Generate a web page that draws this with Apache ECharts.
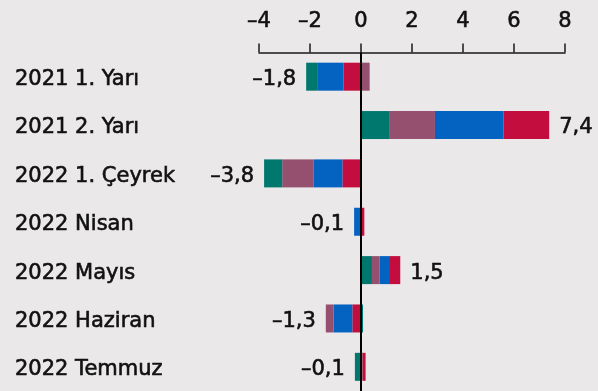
<!DOCTYPE html>
<html>
<head>
<meta charset="utf-8">
<script src="https://cdn.jsdelivr.net/npm/echarts@6/dist/echarts.min.js"></script>
<style>
  html, body { margin: 0; padding: 0; background: #ebe8e9; }
  #chart { width: 598px; height: 391px; }
</style>
</head>
<body>
<div id="chart"></div>
<script>
// Periods shown on the vertical axis, top to bottom
const categories = ['2021 1. Yarı', '2021 2. Yarı', '2022 1. Çeyrek', '2022 Nisan', '2022 Mayıs', '2022 Haziran', '2022 Temmuz'];

// Contributions of each component, per period
const tealValues    = [-0.43, 1.10, -0.71,  0.00, 0.43,  0.08, -0.24];
const mauveValues   = [ 0.34, 1.80, -1.24,  0.04, 0.30, -0.31,  0.07];
const blueValues    = [-1.03, 2.69, -1.12, -0.27, 0.37, -0.73,  0.00];
const crimsonValues = [-0.69, 1.79, -0.73,  0.09, 0.44, -0.34,  0.11];

// Value axis
const axisMin = -4;
const axisMax = 8;
const axisStep = 2;

const parts = [
  { name: 'teal',    values: tealValues,    color: '#00786e' },
  { name: 'mauve',   values: mauveValues,   color: '#96506f' },
  { name: 'blue',    values: blueValues,    color: '#0463c1' },
  { name: 'crimson', values: crimsonValues, color: '#c30d3e' }
];

const INK = '#111111';
// Shared text look: slightly thickened strokes for a medium weight
const TEXT = {
  fontFamily: 'DejaVu Sans',
  fontSize: 21,
  color: INK,
  textBorderColor: INK,
  textBorderWidth: 0.6
};

function fmt(v) {
  const s = Math.abs(v).toFixed(1).replace('.', ',');
  return (v < 0 && s !== '0,0' ? '\u2013' : '') + s;
}

const series = [];

// Positive parts stack rightwards from zero in component order
parts.forEach(function (p, idx) {
  series.push({
    name: p.name + '+',
    type: 'bar',
    stack: 'total',
    barWidth: 28,
    itemStyle: { color: p.color },
    data: p.values.map(function (v) { return v > 0 ? v : '-'; }),
    markLine: idx === 0 ? {
      silent: true,
      symbol: 'none',
      label: { show: false },
      lineStyle: { color: '#000', width: 2, type: 'solid' },
      data: [{ xAxis: 0 }]
    } : undefined
  });
});

// Negative parts stack leftwards from zero in reverse order
parts.slice().reverse().forEach(function (p) {
  series.push({
    name: p.name + '-',
    type: 'bar',
    stack: 'total',
    barWidth: 28,
    itemStyle: { color: p.color },
    data: p.values.map(function (v) { return v < 0 ? v : '-'; })
  });
});

// Total labels placed beyond the outer end of each bar
const labelData = categories.map(function (c, i) {
  let pos = 0, neg = 0;
  parts.forEach(function (p) {
    const v = p.values[i];
    if (v > 0) pos += v; else neg += v;
  });
  const total = pos + neg;
  const positive = total >= 0;
  return {
    value: [positive ? pos : neg, i],
    total: total,
    label: { position: positive ? 'right' : 'left' }
  };
});

series.push({
  name: 'totals',
  type: 'scatter',
  symbolSize: 0.01,
  itemStyle: { color: INK, opacity: 1 },
  silent: true,
  z: 6,
  label: Object.assign({
    show: true,
    distance: 10,
    offset: [0, 3],
    formatter: function (p) { return fmt(p.data.total); }
  }, TEXT),
  data: labelData
});

const chart = echarts.init(document.getElementById('chart'), null, { renderer: 'canvas' });
chart.setOption({
  animation: false,
  backgroundColor: '#ebe8e9',
  grid: { left: 259, right: 33, top: 52.5, bottom: -4.5, containLabel: false },
  xAxis: {
    type: 'value',
    position: 'top',
    min: axisMin,
    max: axisMax,
    interval: axisStep,
    splitLine: { show: false },
    axisLine: { show: true, lineStyle: { color: '#1a1a1a', width: 1.5 } },
    axisTick: { show: true, length: 9, lineStyle: { color: '#1a1a1a', width: 1.5 } },
    axisLabel: Object.assign({
      margin: 20,
      formatter: function (v) { return v < 0 ? '\u2013' + Math.abs(v) : String(v); }
    }, TEXT)
  },
  yAxis: {
    type: 'category',
    inverse: true,
    data: categories,
    axisLine: { show: false },
    axisTick: { show: false },
    splitLine: { show: false },
    axisLabel: Object.assign({
      align: 'left',
      verticalAlign: 'top',
      lineHeight: 6,
      margin: 244
    }, TEXT)
  },
  series: series
});
</script>
</body>
</html>
